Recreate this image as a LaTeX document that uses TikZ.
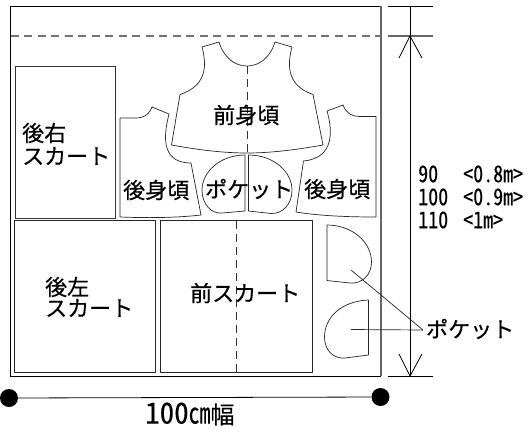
\documentclass[tikz,border=0pt]{standalone}
\usepackage{fontspec}
\setmainfont{Noto Sans CJK JP}[RawFeature={embolden=0.5}]
\newfontfamily\hw{Noto Sans CJK JP}[RawFeature={+hwid;embolden=0.3}]
\newcommand{\smt}[1]{\scalebox{.87}[1]{\hw\fontsize{23}{23}\selectfont #1}}
\tikzset{
 x=1pt,y=-1pt,
 piece/.style={draw=black!85,line width=0.7pt,line join=round},
 box/.style={draw=black!80,line width=1pt},
 fold/.style={draw=black!80,line width=0.7pt,dash pattern=on 8pt off 5pt},
 dim/.style={draw=black,line width=0.8pt},
 lab/.style={inner sep=0pt,font=\fontsize{22}{22}\selectfont,anchor=west},
 sm/.style={inner sep=0pt,anchor=west},
 dot/.style={circle,fill=black,inner sep=0pt,minimum size=18pt}
}
\begin{document}
\begin{tikzpicture}
\useasboundingbox (0,0) rectangle (531,432);
\fill[white] (0,0) rectangle (531,432);
% cloth
\draw[line width=0.9pt] (381,376) -- (10.5,376) -- (10.5,6) -- (381,6);
\draw[draw=black!60,line width=1.1pt] (381,6) -- (381,376);
\draw[draw=black!55,line width=1.1pt,dash pattern=on 8pt off 5.5pt] (10.5,36) -- (381,36);
% skirts
\draw[box] (15,66) rectangle (115.5,218);
\draw[piece,line width=0.9pt] (14.5,220.5) rectangle (155,372);
\draw[piece,line width=0.9pt] (160.5,220.5) rectangle (312.5,372);
\draw[fold] (236.5,221) -- (236.5,372);
% front bodice
\draw[piece] (202,47) -- (219,42) .. controls (224,58) and (235,66) .. (247,66)
  .. controls (259,66) and (270,58) .. (275,42) -- (292,47)
  .. controls (288,62) and (285,85) .. (313,94.5)
  -- (323,145) .. controls (295,150) and (270,153) .. (247,153)
  .. controls (224,153) and (199,150) .. (171.5,145) -- (180,94.5)
  .. controls (209,85) and (206,62) .. (202,47) -- cycle;
\draw[fold] (247,66) -- (247,153);
% left back
\draw[piece] (120,118) -- (136,118) .. controls (145,118) and (150,113) .. (152,107)
  -- (169,114) .. controls (165,130) and (158,163) .. (191,163)
  -- (201,215) .. controls (175,218) and (145,218) .. (120,217) -- cycle;
% right back
\draw[piece] (376,116.5) -- (360,116.5) .. controls (350,116.5) and (345,111) .. (343,105)
  -- (327,111) .. controls (332,128) and (336,158) .. (303.5,161)
  -- (296,212) .. controls (320,216) and (350,217) .. (376,217) -- cycle;
% centre pockets
\draw[piece] (245,155) -- (245,211) -- (222,213)
  .. controls (212,214) and (202,205) .. (202,190)
  .. controls (202,172) and (220,155) .. (245,155) -- cycle;
\draw[piece] (248.5,155) -- (248.5,211) -- (271,213.5)
  .. controls (282,214) and (292,205) .. (292,190)
  .. controls (292,172) and (274,155) .. (248.5,155) -- cycle;
% side pockets
\draw[piece] (327,225) -- (327,280.5) -- (350,283)
  .. controls (362,284) and (371.5,275) .. (371.5,262)
  .. controls (371.5,242) and (352,225) .. (327,225) -- cycle;
\draw[piece] (368.5,300) -- (368.5,355) -- (345,358)
  .. controls (333,359) and (324.5,350) .. (324.5,337)
  .. controls (324.5,317) and (342,301) .. (368.5,300) -- cycle;
% labels
\node[lab] (zenmi) at (213,115) {前身頃};
\node[lab] (usiu) at (22,133) {後右};
\node[lab] (usiusk) at (22,156) {スカート};
\node[lab] (kouL) at (123,190) {後身頃};
\node[lab] (pk) at (205,189) {ポケット};
\node[lab] (kouR) at (304,189) {後身頃};
\node[lab] (usisa) at (45,287) {後左};
\node[lab] (usisask) at (45,308) {スカート};
\node[lab] (zensk) at (190,293) {前スカート};
\node[lab] (pk2) at (426,329) {ポケット};
\node[sm] (a1) at (418,174) {\smt{90}};
\node[sm] (a2) at (463,174) {\smt{<0.8m>}};
\node[sm] (b1) at (418,197) {\smt{100}};
\node[sm] (b2) at (463,197) {\smt{<0.9m>}};
\node[sm] (c1) at (418,220) {\smt{110}};
\node[sm] (c2) at (463,220) {\smt{<1m>}};
% leaders
\coordinate (la) at (351,270);
\coordinate (lb) at (351,329.5);
\coordinate (lc) at (423,330);
\draw[piece] (la) -- (lc);
\draw[piece] (lb) -- (lc);
% dimension
\coordinate (t) at (410,6); \coordinate (m) at (410,36); \coordinate (b) at (410,376);
\draw[dim] (388,6) -- (433,6);
\draw[draw=black!60,line width=1.1pt] (388,36) -- (433,36);
\draw[dim] (388,376) -- (433,376);
\draw[dim] (t) -- (b);
\draw[dim] (399,58) -- (m) -- (422,58);
\draw[dim] (399,354) -- (b) -- (422,354);
% width
\node[dot] (d1) at (9,398) {};
\node[dot] (d2) at (380.5,397) {};
\draw[dim] (d1) -- (d2);
\node[inner sep=0pt,anchor=west] (w) at (145,414) {\hw\fontsize{29}{29}\selectfont 100\scalebox{.75}[1]{cm}\fontsize{24}{24}\selectfont 幅};
\end{tikzpicture}
\end{document}
